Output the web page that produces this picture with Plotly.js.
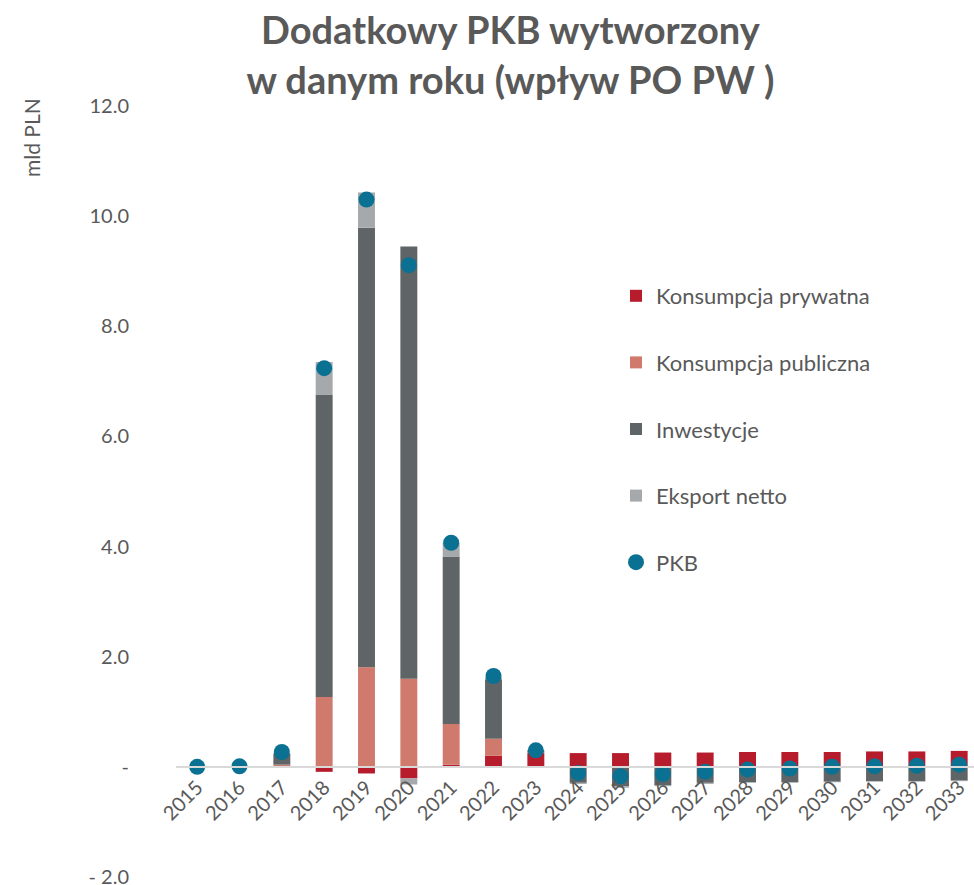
<!DOCTYPE html>
<html>
<head>
<meta charset="utf-8">
<script src="https://cdn.plot.ly/plotly-3.0.1.min.js"></script>
<style>html,body{margin:0;padding:0;background:#fff;}#chart{width:974px;height:885px;}</style>
</head>
<body>
<div id="chart"></div>
<script>
var years = ["2015","2016","2017","2018","2019","2020","2021","2022","2023","2024","2025","2026","2027","2028","2029","2030","2031","2032","2033"];
var konsPrywatna = [0, 0, 0, -0.09, -0.12, -0.21, 0.04, 0.20, 0.25, 0.25, 0.25, 0.26, 0.26, 0.27, 0.27, 0.27, 0.28, 0.28, 0.29];
var konsPubliczna = [0, 0, 0.04, 1.27, 1.81, 1.60, 0.74, 0.31, 0.02, 0, 0, 0, 0, 0, 0, 0, 0, 0, 0];
var inwestycje = [0, 0, 0.20, 5.49, 7.98, 7.85, 3.04, 1.08, 0.03, -0.29, -0.35, -0.33, -0.29, -0.28, -0.28, -0.27, -0.26, -0.26, -0.25];
var eksportNetto = [0, 0, 0.01, 0.59, 0.64, -0.11, 0.25, 0.03, 0, -0.02, -0.03, -0.02, -0.02, -0.01, -0.01, -0.01, -0.01, -0.01, -0.01];
var pkb = [0.0, 0.01, 0.27, 7.24, 10.30, 9.11, 4.07, 1.65, 0.30, -0.11, -0.17, -0.13, -0.09, -0.05, -0.03, 0.0, 0.01, 0.02, 0.04];
var yTickVals = [-2, 0, 2, 4, 6, 8, 10, 12];
var yTickText = ["- 2.0", "-", "2.0", "4.0", "6.0", "8.0", "10.0", "12.0"];

var txt = "#595959";
var fam = "Lato, 'Open Sans', sans-serif";
var yMin = -2.127, yMax = 12;

function barTrace(name, vals, color, g) {
  return {type: "bar", name: name, x: years, y: vals, width: 0.4,
    marker: {color: color, line: {width: 0}}, legendgroup: g, hoverinfo: "skip"};
}
var data = [
  barTrace("Konsumpcja prywatna", konsPrywatna, "#B71C2C", "a"),
  barTrace("Konsumpcja publiczna", konsPubliczna, "#D07A6D", "b"),
  barTrace("Inwestycje", inwestycje, "#5F6466", "c"),
  barTrace("Eksport netto", eksportNetto, "#A6A9AB", "d"),
  {type: "scatter", mode: "markers", name: "PKB", x: years, y: pkb,
   marker: {color: "#0B7193", size: 16}, legendgroup: "e", hoverinfo: "skip"}
];

var plotH = 885 - 106 - 1;
var layout = {
  width: 974, height: 885,
  margin: {l: 176, r: 0, t: 106, b: 1},
  paper_bgcolor: "#fff", plot_bgcolor: "#fff",
  barmode: "relative",
  showlegend: true,
  font: {family: fam, color: txt, size: 20},
  title: {text: "<b>Dodatkowy PKB wytworzony<br>w danym roku (wpływ PO PW )</b>",
    font: {family: fam, size: 38, color: txt},
    x: 0.524, xref: "container", xanchor: "center",
    y: 0.95, yref: "container", yanchor: "middle"},
  xaxis: {type: "category", range: [-0.5, 18.35], anchor: "free", position: (0 - yMin) / (yMax - yMin),
    showgrid: false, zeroline: false, showline: true, linecolor: "#D9D9D9", linewidth: 2,
    tickangle: -45, tickfont: {family: fam, size: 20, color: txt}, ticks: "", fixedrange: true},
  yaxis: {range: [yMin, yMax], tickvals: yTickVals, ticktext: yTickText,
    showgrid: false, zeroline: false, showline: false, ticks: "",
    ticklabelstandoff: 46, ticklabeloverflow: "allow",
    tickfont: {family: fam, size: 20, color: txt}, fixedrange: true},
  legend: {x: (616 - 176) / 798, xref: "paper", y: 1 - (275 - 106) / plotH, yanchor: "top",
    font: {family: fam, size: 22, color: txt}, tracegroupgap: 35,
    traceorder: "grouped", bgcolor: "rgba(0,0,0,0)"},
  annotations: [{text: "mld PLN", textangle: -90, xref: "paper", yref: "paper",
    x: (32 - 176) / 798, y: 1 - (138 - 106) / plotH, showarrow: false,
    font: {family: fam, size: 21, color: txt}, xanchor: "center", yanchor: "middle"}],
  hovermode: false
};
Plotly.newPlot("chart", data, layout, {displayModeBar: false, staticPlot: true});
</script>
</body>
</html>
